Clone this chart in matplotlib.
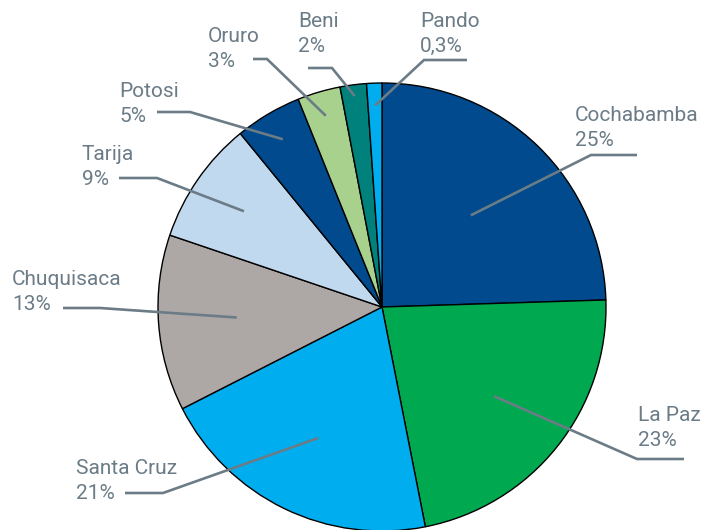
import numpy as np
import matplotlib
matplotlib.use("Agg")
import matplotlib.pyplot as plt

# Data
regions = ['Cochabamba', 'La Paz', 'Santa Cruz', 'Chuquisaca', 'Tarija',
           'Potosi', 'Oruro', 'Beni', 'Pando']
shares = [24.5, 22.4, 20.6, 12.7, 8.9, 4.8, 3.1, 1.9, 1.1]
pct_labels = ['25%', '23%', '21%', '13%', '9%', '5%', '3%', '2%', '0,3%']
colors = ['#004A8D', '#00A94F', '#00AEEF', '#ADA8A6', '#C1D9EF',
          '#004A8D', '#A9D18E', '#00817B', '#00AEEF']

# Layout of labels (pixel coords from top-left)
W, H = 702, 530
center = (382, 307)
radius = 224
start_frac = [0.57, 0.64, 0.65, 0.65, 0.75, 0.87, 0.89, 0.95, 0.90]
elbows = [(591, 155), (637, 459), (163, 493), (100, 308), (157, 178),
          (190, 112), (267, 59), (332, 68), (424, 60)]
ends = [637, 684, 125, 63, 119, 157, 253, 308, 467]
text_pos = [(575, 121), (638, 421), (76, 474), (12, 285), (82, 160),
            (119, 97), (208, 42), (298, 27), (420, 27)]
line_gap = 25

gray = '#6B7C87'

fig = plt.figure(figsize=(W / 100, H / 100), dpi=100)
ax = fig.add_axes([0, 0, 1, 1])

wedges, _ = ax.pie(shares, colors=colors, startangle=90, counterclock=False,
                   center=(center[0], H - center[1]), radius=radius,
                   wedgeprops=dict(edgecolor='black', linewidth=1.0))
ax.set_xlim(0, W)
ax.set_ylim(0, H)
ax.set_aspect('equal')
ax.axis('off')

for i, w in enumerate(wedges):
    mid = np.deg2rad((w.theta1 + w.theta2) / 2)
    r = radius * start_frac[i]
    sx = center[0] + r * np.cos(mid)
    sy = (H - center[1]) + r * np.sin(mid)
    ex, ey = elbows[i]
    ax.plot([sx, ex, ends[i]], [sy, H - ey, H - ey], color=gray, lw=1.9,
            solid_capstyle='butt', solid_joinstyle='miter', zorder=5)
    tx, ty = text_pos[i]
    ax.text(tx, H - ty, regions[i], color=gray, fontsize=15,
            ha='left', va='baseline', family='Roboto')
    ax.text(tx, H - ty - line_gap, pct_labels[i], color=gray, fontsize=15,
            ha='left', va='baseline', family='Roboto')

fig.savefig('out.png', dpi=100)
